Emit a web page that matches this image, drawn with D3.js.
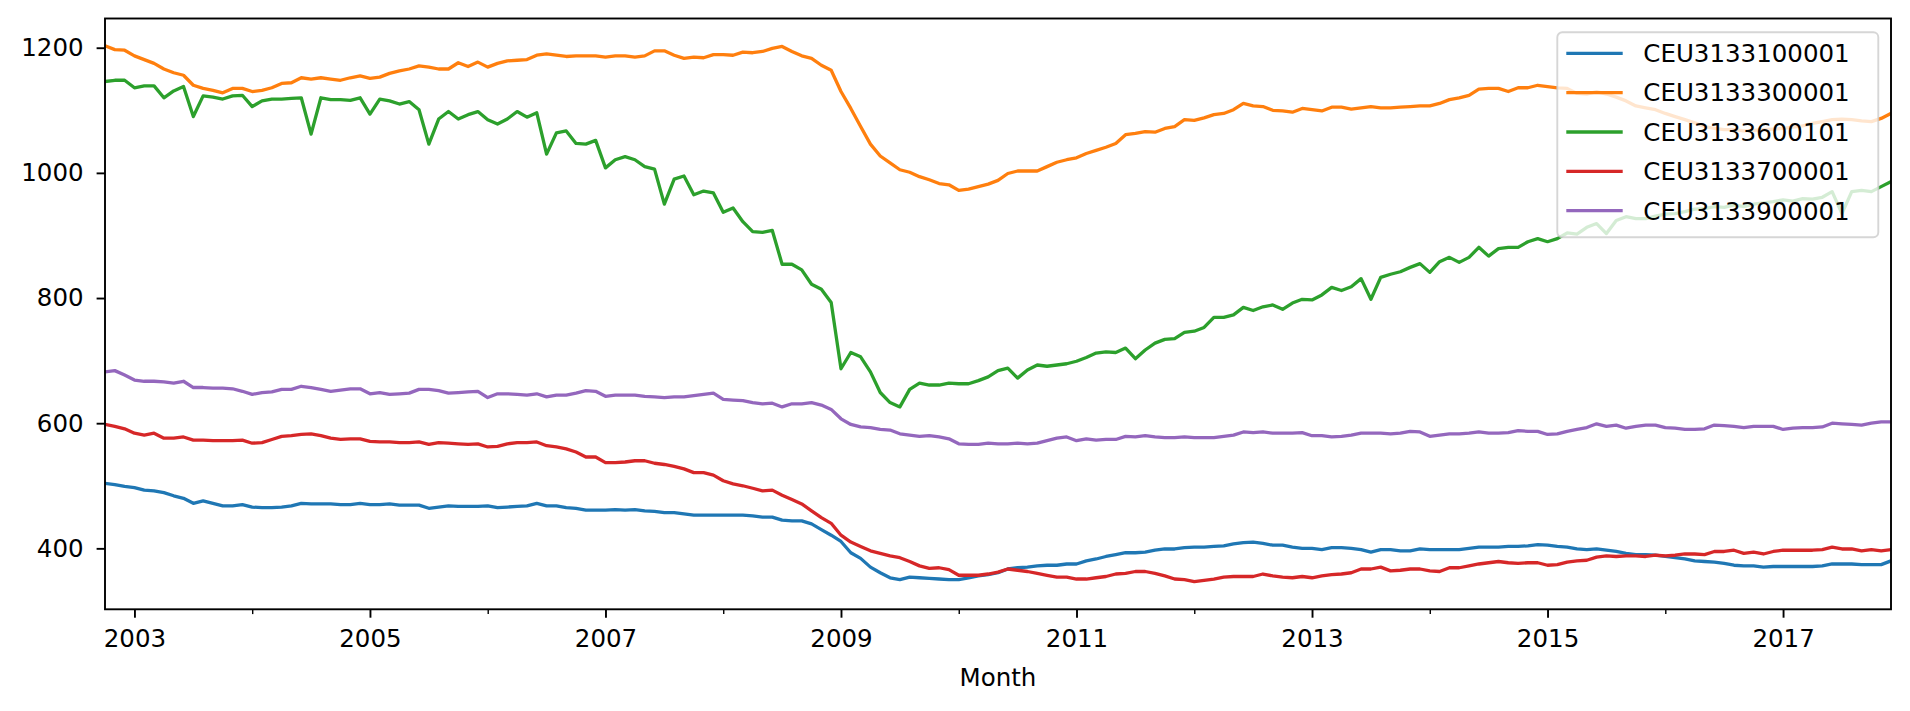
<!DOCTYPE html>
<html>
<head>
<meta charset="utf-8">
<script src="https://cdn.jsdelivr.net/npm/d3@7"></script>
<style>
  html, body { margin: 0; padding: 0; background: #fff; }
  text { font-family: "DejaVu Sans", sans-serif; }
</style>
</head>
<body>
<div id="chart"></div>
<script>
// Monthly categories, Oct 2002 .. Dec 2017 (183 months)
const months = d3.timeMonth
  .range(new Date(2002, 9, 1), new Date(2018, 0, 1))
  .map(d3.timeFormat("%Y-%m"));

const seriesNames = ["CEU3133100001", "CEU3133300001", "CEU3133600101", "CEU3133700001", "CEU3133900001"];
const seriesColors = ["#1f77b4", "#ff7f0e", "#2ca02c", "#d62728", "#9467bd"];

// Values (thousands of employees)
const ceu3133100001 = [
  504,502,499,497,493,492,489,484,480,472,
  476,472,468,468,470,466,465,465,466,468,
  472,471,471,471,470,470,472,470,470,471,
  469,469,469,464,466,468,467,467,467,468,
  465,466,467,468,472,468,468,465,464,461,
  461,461,462,461,462,460,459,457,457,455,453,
  453,453,453,453,453,452,450,450,445,444,
  444,439,430,421,411,393,384,370,361,353,
  350,354,353,352,351,350,350,353,356,358,
  361,367,369,370,372,373,373,375,375,380,
  383,387,390,393,393,394,397,399,399,401,
  402,402,403,404,407,409,410,408,405,405,
  402,400,400,398,401,401,400,398,394,398,
  398,396,396,399,398,398,398,398,400,402,
  402,402,403,403,404,406,405,403,402,399,
  398,399,397,395,392,390,390,389,387,385,
  383,380,379,378,376,373,372,372,370,371,
  371,371,371,371,372,375,375,375,374,374,374,380
];
const ceu3133300001 = [
  1203,1197,1196,1187,1181,1175,1166,1160,1156,1140,
  1135,1132,1128,1135,1135,1130,1132,1136,1143,1144,
  1152,1150,1152,1150,1148,1152,1155,1151,1153,1159,
  1163,1166,1171,1169,1166,1166,1176,1170,1177,1169,
  1175,1179,1180,1181,1188,1190,1188,1186,1187,1187,
  1187,1185,1187,1187,1185,1187,1195,1195,1188,1183,1185,
  1184,1189,1189,1188,1193,1192,1194,1199,1202,1194,
  1187,1183,1172,1164,1130,1103,1074,1046,1027,1016,
  1005,1001,994,989,983,981,972,974,978,982,
  988,999,1003,1003,1003,1010,1017,1021,1024,1031,
  1036,1041,1047,1061,1063,1066,1065,1071,1074,1085,
  1084,1088,1093,1095,1101,1111,1107,1106,1100,1099,
  1097,1103,1101,1099,1105,1105,1102,1104,1106,1104,
  1104,1105,1106,1107,1107,1111,1117,1120,1124,1134,
  1135,1135,1130,1136,1136,1140,1138,1136,1135,1127,
  1126,1130,1126,1121,1115,1107,1104,1101,1095,1090,
  1085,1080,1074,1071,1069,1069,1067,1068,1069,1070,
  1071,1073,1075,1079,1082,1085,1086,1085,1083,1082,1087,1095
];
const ceu3133600101 = [
  1146,1148,1148,1136,1139,1139,1120,1131,1138,1090,
  1123,1121,1118,1123,1124,1106,1115,1118,1118,1119,
  1120,1062,1120,1117,1117,1116,1120,1094,1118,1115,
  1110,1114,1101,1046,1086,1098,1086,1093,1098,1085,
  1078,1086,1098,1089,1096,1030,1064,1067,1047,1046,
  1052,1008,1021,1026,1021,1010,1006,950,990,995,965,
  971,968,937,944,922,906,905,908,854,854,
  845,822,814,793,687,713,706,682,649,633,
  626,654,664,661,661,664,663,663,668,674,
  684,688,672,685,693,691,693,695,699,705,
  712,714,713,720,703,717,728,734,735,745,
  747,753,769,769,773,785,780,786,789,782,
  792,798,797,805,817,812,818,831,798,833,
  838,842,849,855,841,858,865,857,865,881,
  867,879,881,881,890,895,890,895,904,902,
  913,919,903,924,930,927,927,931,934,935,
  938,942,943,946,945,949,946,950,952,954,
  957,955,959,958,961,970,935,970,972,970,978,986
];
const ceu3133700001 = [
  598,595,591,584,581,584,576,576,578,573,
  573,572,572,572,573,568,569,574,579,580,
  582,583,580,576,574,575,575,571,570,570,
  569,569,570,566,569,568,567,566,567,562,
  563,567,569,569,570,564,562,559,554,546,
  546,537,537,538,540,540,536,534,531,527,521,
  521,517,508,503,500,496,492,493,485,478,
  471,460,449,440,421,410,403,396,392,388,
  385,379,372,368,369,366,357,357,357,359,
  362,367,365,363,360,357,354,354,351,351,
  353,355,359,360,363,363,360,356,351,350,
  347,349,351,354,355,355,355,359,356,354,
  353,355,353,356,358,359,361,367,367,370,
  364,365,367,367,364,363,369,369,372,375,
  377,379,377,376,377,377,373,374,378,380,
  381,386,388,387,388,388,387,389,388,389,
  391,391,390,395,395,397,392,394,391,395,
  397,397,397,397,398,402,399,399,396,398,396,398
];
const ceu3133900001 = [
  682,684,677,669,667,667,666,664,667,657,
  657,656,656,655,651,646,649,650,654,654,
  659,657,654,651,653,655,655,647,649,646,
  647,648,654,654,652,648,649,650,651,641,
  647,647,646,645,647,642,645,645,648,652,
  651,643,645,645,645,643,642,641,642,642,644,
  646,648,638,637,636,633,631,632,626,631,
  631,633,629,622,607,598,594,593,590,589,
  583,581,579,580,578,575,567,566,566,568,
  567,567,568,567,568,572,576,578,572,575,
  573,574,574,579,578,580,578,577,577,578,
  577,577,577,579,581,586,585,586,584,584,
  584,585,580,580,578,579,581,584,584,584,
  583,584,587,586,579,581,583,583,584,586,
  584,584,585,588,587,587,582,583,587,590,
  593,599,595,597,592,595,597,597,593,592,
  590,590,591,597,596,595,593,595,595,595,
  590,592,593,593,594,600,599,598,597,600,602,602
];

const seriesValues = [ceu3133100001, ceu3133300001, ceu3133600101, ceu3133700001, ceu3133900001];

const majorTicks = ["2003-01", "2005-01", "2007-01", "2009-01", "2011-01", "2013-01", "2015-01", "2017-01"];
const minorTicks = ["2004-01", "2006-01", "2008-01", "2010-01", "2012-01", "2014-01", "2016-01"];
const yTicks = [400, 600, 800, 1000, 1200];

//******************************************************************************************** */
// Layout
const width = 1910;
const height = 711;
const plot = { left: 105, right: 1891, top: 18.5, bottom: 609.3 };
const fontSize = 24.5;

const svg = d3.select("#chart")
  .append("svg")
  .attr("width", width)
  .attr("height", height)
  .style("display", "block");

svg.append("rect").attr("width", width).attr("height", height).attr("fill", "#fff");

const x = d3.scalePoint()
  .domain(months)
  .range([plot.left, plot.right])
  .padding(0);

const y = d3.scaleLinear()
  .domain([302.6, 1246.7])
  .range([plot.bottom, plot.top]);

svg.append("clipPath")
  .attr("id", "plot-clip")
  .append("rect")
  .attr("x", plot.left)
  .attr("y", plot.top)
  .attr("width", plot.right - plot.left)
  .attr("height", plot.bottom - plot.top);

//******************************************************************************************** */
// Lines
const line = d3.line()
  .x((d, i) => x(months[i]))
  .y((d) => y(d));

svg.append("g")
  .attr("clip-path", "url(#plot-clip)")
  .selectAll("path")
  .data(seriesValues)
  .enter()
  .append("path")
  .attr("d", line)
  .attr("fill", "none")
  .attr("stroke", (d, i) => seriesColors[i])
  .attr("stroke-width", 3.3)
  .attr("stroke-linejoin", "round")
  .attr("stroke-linecap", "square");

//******************************************************************************************** */
// Axes
const yAxis = svg.append("g")
  .attr("transform", `translate(${plot.left},0)`)
  .call(d3.axisLeft(y).tickValues(yTicks).tickSize(8.4).tickPadding(13).tickFormat(d3.format("d")));

const xAxis = svg.append("g")
  .attr("transform", `translate(0,${plot.bottom})`)
  .call(d3.axisBottom(x).tickValues(majorTicks).tickSize(8.4).tickPadding(12).tickFormat((d) => d.slice(0, 4)));

const xMinor = svg.append("g")
  .attr("transform", `translate(0,${plot.bottom})`)
  .call(d3.axisBottom(x).tickValues(minorTicks).tickSize(4.8).tickFormat(""));

[yAxis, xAxis, xMinor].forEach((g) => {
  g.select(".domain").remove();
  g.selectAll("line").attr("stroke", "#000").attr("stroke-width", 1.9);
  g.selectAll("text")
    .attr("fill", "#000")
    .style("font-size", fontSize + "px")
    .style("font-family", "'DejaVu Sans', sans-serif");
});
xMinor.selectAll("line").attr("stroke-width", 1.4);

// Frame (spines)
svg.append("rect")
  .attr("x", plot.left)
  .attr("y", plot.top)
  .attr("width", plot.right - plot.left)
  .attr("height", plot.bottom - plot.top)
  .attr("fill", "none")
  .attr("stroke", "#000")
  .attr("stroke-width", 1.9);

svg.append("text")
  .attr("x", (plot.left + plot.right) / 2)
  .attr("y", 686)
  .attr("text-anchor", "middle")
  .style("font-size", fontSize + "px")
  .text("Month");

//******************************************************************************************** */
// Legend
const legend = svg.append("g").attr("transform", "translate(1557.3,32.3)");

legend.append("rect")
  .attr("width", 321)
  .attr("height", 205)
  .attr("rx", 5)
  .attr("ry", 5)
  .attr("fill", "#fff")
  .attr("fill-opacity", 0.8)
  .attr("stroke", "#cccccc")
  .attr("stroke-opacity", 0.8)
  .attr("stroke-width", 1.9);

const items = legend.selectAll("g.item")
  .data(seriesNames)
  .enter()
  .append("g")
  .attr("class", "item")
  .attr("transform", (d, i) => `translate(0,${21 + i * 39.35})`);

items.append("line")
  .attr("x1", 9)
  .attr("x2", 65.4)
  .attr("stroke", (d, i) => seriesColors[i])
  .attr("stroke-width", 3.3)
  .attr("stroke-linecap", "butt");

items.append("text")
  .attr("x", 86)
  .attr("dy", "0.36em")
  .style("font-size", fontSize + "px")
  .text((d) => d);
</script>
</body>
</html>
